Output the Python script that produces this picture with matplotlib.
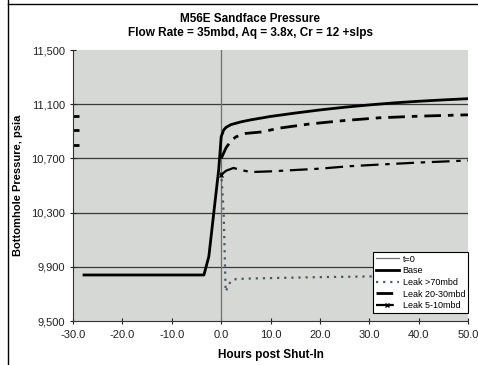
import numpy as np
import matplotlib
matplotlib.use("Agg")
import matplotlib.pyplot as plt
from matplotlib.lines import Line2D

plt.rcParams['font.family'] = ['Liberation Sans', 'DejaVu Sans']

# data
t_base = [-27.8, -3.5, -2.5, -1.5, -0.5, 0.0, 0.5, 1, 2, 4, 6, 10, 15, 20, 25, 30, 35, 40, 45, 50]
p_base = [9841, 9841, 9978, 10300, 10620, 10860, 10910, 10930, 10950, 10970, 10985, 11010,
          11035, 11058, 11078, 11095, 11110, 11122, 11132, 11141]

t_leak2030 = [0, 1, 2, 3, 5, 8, 12, 18, 25, 32, 40, 50]
p_leak2030 = [10700, 10780, 10830, 10860, 10885, 10895, 10925, 10955, 10980, 11000, 11012, 11022]

t_leak510 = [0, 1, 2.5, 4, 6, 10, 15, 20, 26, 32, 40, 50]
p_leak510 = [10580, 10610, 10630, 10615, 10600, 10605, 10615, 10625, 10643, 10655, 10670, 10685]

t_leak70 = [0, 0.5, 0.9, 1.9, 3, 6, 10, 20, 30, 40, 50]
p_leak70 = [10600, 10300, 9719, 9793, 9811, 9815, 9818, 9825, 9830, 9835, 9840]

# stray first points at the left edge
t_start = [-29.4, -29.4, -29.4]
p_start = [11015, 10910, 10800]

x_ticks = [-30, -20, -10, 0, 10, 20, 30, 40, 50]
y_ticks = [9500, 9900, 10300, 10700, 11100, 11500]

fig = plt.figure(figsize=(4.78, 3.65), dpi=100)
ax = fig.add_axes([0.153, 0.12, 0.826, 0.743])
ax.set_facecolor('#d6d8d5')

for y in y_ticks[1:-1]:
    ax.axhline(y, color='#3a3a3a', lw=0.9, zorder=1)

ax.plot([0, 0], [9500, 11500], color='#707070', lw=0.9, label='t=0', zorder=2)
ax.plot(t_base, p_base, color='black', lw=2.0, label='Base', zorder=4)
ax.plot(t_leak70, p_leak70, color='#4e5862', lw=1.6, linestyle=(0, (1, 2.2)),
        label='Leak >70mbd', zorder=3)
ax.plot(t_leak2030, p_leak2030, color='black', lw=2.0, linestyle=(0, (6, 2.5, 2, 2.5)),
        label='Leak 20-30mbd', zorder=3)
ax.plot(t_leak510, p_leak510, color='black', lw=1.6, linestyle=(0, (8, 3, 2, 3)),
        marker='x', markersize=3, markevery=[0], label='Leak 5-10mbd', zorder=3)
ax.plot(t_start, p_start, linestyle='none', marker='_', markersize=5, mew=2, color='black')

ax.set_xlim(-30, 50)
ax.set_ylim(9500, 11500)
ax.set_xticks(x_ticks)
ax.set_xticklabels([f"{v:.1f}" for v in x_ticks])
ax.set_yticks(y_ticks)
ax.set_yticklabels([f"{v:,}" for v in y_ticks])
ax.tick_params(direction='inout', length=5, width=0.8, labelsize=8, colors='#222222')
ax.xaxis.set_tick_params(pad=4)

for s in ['top', 'right']:
    ax.spines[s].set_visible(False)
ax.spines['left'].set_color('#333333')
ax.spines['bottom'].set_color('#333333')

ax.set_title("M56E Sandface Pressure\nFlow Rate = 35mbd, Aq = 3.8x, Cr = 12 +slps",
             fontsize=8.5, fontweight='bold', pad=10, x=0.448, linespacing=1.25)
ax.set_xlabel("Hours post Shut-In", fontsize=8.5, fontweight='bold', labelpad=6)
ax.set_ylabel("Bottomhole Pressure, psia", fontsize=8, fontweight='bold', labelpad=6)

leg = ax.legend(loc='lower right', fontsize=6.5, frameon=True, fancybox=False,
                edgecolor='black', framealpha=1, borderpad=0.3, labelspacing=0.3,
                handlelength=2.6, handletextpad=0.4, borderaxespad=0.0,
                bbox_to_anchor=(1.0, 0.03))
leg.get_frame().set_linewidth(0.8)

# scanned page frame
fig.add_artist(Line2D([8 / 478, 8 / 478], [0, 1], color='black', lw=1))
fig.add_artist(Line2D([8 / 478, 1], [1 - 4 / 365, 1 - 4 / 365], color='black', lw=1))

fig.savefig("out.png", dpi=100)
